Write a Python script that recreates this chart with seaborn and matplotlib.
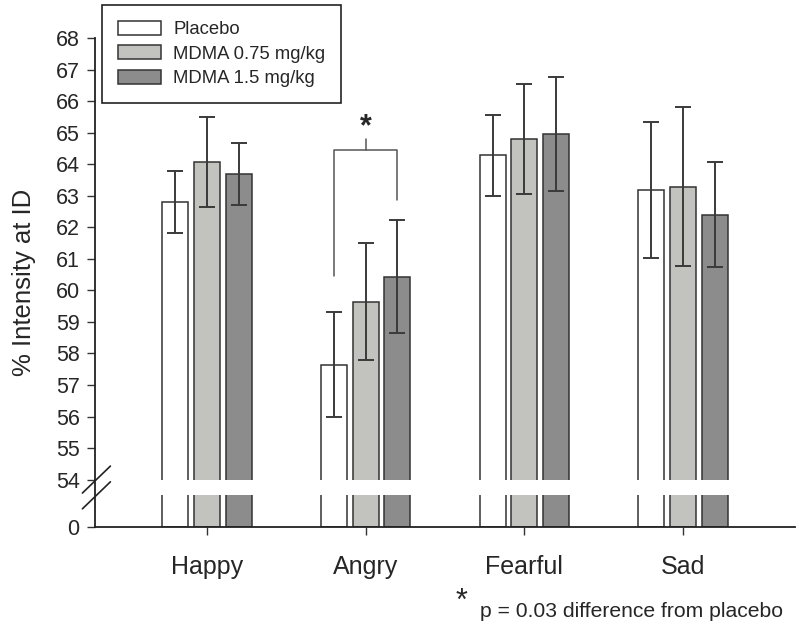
import numpy as np
import pandas as pd
import matplotlib
matplotlib.use("Agg")
import matplotlib.pyplot as plt
import seaborn as sns

# ---- data ----
emotions = ["Happy", "Angry", "Fearful", "Sad"]
groups = ["Placebo", "MDMA 0.75 mg/kg", "MDMA 1.5 mg/kg"]
placebo_mean = [62.80, 57.65, 64.30, 63.19]
mdma075_mean = [64.08, 59.62, 64.80, 63.27]
mdma15_mean = [63.70, 60.43, 64.95, 62.39]
placebo_lo = [61.82, 56.00, 63.00, 61.04]
placebo_hi = [63.77, 59.30, 65.55, 65.34]
mdma075_lo = [62.65, 57.78, 63.07, 60.77]
mdma075_hi = [65.50, 61.50, 66.55, 65.82]
mdma15_lo = [62.70, 58.65, 63.16, 60.73]
mdma15_hi = [64.68, 62.22, 66.75, 64.07]
y_ticks = [0, 54, 55, 56, 57, 58, 59, 60, 61, 62, 63, 64, 65, 66, 67, 68]
colors = ["#ffffff", "#c2c2be", "#8c8c8c"]
# significance bracket (Angry: placebo vs 1.5 mg/kg)
bracket_left_bottom = 60.45
bracket_right_bottom = 62.87
bracket_top = 64.45
bracket_tick_top = 64.8
star_level = 64.7

means = [placebo_mean, mdma075_mean, mdma15_mean]
los = [placebo_lo, mdma075_lo, mdma15_lo]
his = [placebo_hi, mdma075_hi, mdma15_hi]

df = pd.DataFrame({
    "emotion": np.repeat([emotions], 3, axis=0).ravel(),
    "group": np.repeat(groups, len(emotions)),
    "value": np.concatenate(means),
})

BREAK = 54.0
LOW_SPAN = 1.5


def fwd(y):
    y = np.asarray(y, dtype=float)
    return np.where(y < BREAK, y / BREAK * LOW_SPAN, y - BREAK + LOW_SPAN)


def inv(p):
    p = np.asarray(p, dtype=float)
    return np.where(p < LOW_SPAN, p / LOW_SPAN * BREAK, p - LOW_SPAN + BREAK)


sns.set_style("ticks")
plt.rcParams["font.family"] = ["Liberation Sans", "DejaVu Sans"]

fig = plt.figure(figsize=(8.0, 6.28), dpi=100)
ax = fig.add_axes([95 / 800, 1 - 527 / 628, 700 / 800, 489 / 628])
ax.set_yscale("function", functions=(fwd, inv))

sns.barplot(data=df, x="emotion", y="value", hue="group", order=emotions,
            hue_order=groups, palette=colors, edgecolor="#333333",
            linewidth=1.1, width=0.6, gap=0.18, errorbar=None, ax=ax,
            legend=True, zorder=1)

bar_containers = list(ax.containers)

# error bars
for k, cont in enumerate(bar_containers):
    xs = [b.get_x() + b.get_width() / 2 for b in cont]
    m = np.array(means[k])
    lo = m - np.array(los[k])
    hi = np.array(his[k]) - m
    ax.errorbar(xs, m, yerr=[lo, hi], fmt="none", ecolor="#3a3a3a",
                elinewidth=1.4, capsize=6, capthick=1.4, zorder=4)

# white break band
ax.axhspan(float(inv(1.0)), BREAK, color="white", zorder=3, lw=0)

ax.set_ylim(0, 68)
ax.set_xlim(-0.705, 3.705)
ax.set_yticks(y_ticks)
ax.set_yticklabels([str(t) for t in y_ticks])
ax.tick_params(axis="y", labelsize=15.5, length=6, width=1, color="#333333", pad=5)
ax.tick_params(axis="x", labelsize=18, length=6, width=1, color="#333333", pad=14)
for side in ["top", "right"]:
    ax.spines[side].set_visible(False)
for side in ["left", "bottom"]:
    ax.spines[side].set_linewidth(1.3)
    ax.spines[side].set_color("#222222")
    ax.spines[side].set_zorder(5)
ax.set_xlabel("")
ax.set_ylabel("% Intensity at ID", fontsize=18.5, labelpad=14)

# break slashes on y axis
for yc in (0.097, 0.0648):
    ax.plot([-0.018, 0.022], [yc - 0.0276, yc + 0.0276], transform=ax.transAxes,
            color="#222222", lw=1.2, clip_on=False, zorder=6)

# significance bracket
c0 = bar_containers[0][1]
c2 = bar_containers[2][1]
xl = c0.get_x() + c0.get_width() / 2
xr = c2.get_x() + c2.get_width() / 2
xm = (xl + xr) / 2
ax.plot([xl, xl, xr, xr], [bracket_left_bottom, bracket_top, bracket_top, bracket_right_bottom],
        color="#555555", lw=1.1, zorder=4)
ax.plot([xm, xm], [bracket_top, bracket_tick_top], color="#555555", lw=1.1, zorder=4)
ax.text(xm, star_level, "*", ha="center", va="bottom", fontsize=22, fontweight="bold")

# legend
handles, labels = ax.get_legend_handles_labels()
if ax.legend_ is not None:
    ax.legend_.remove()
leg = fig.legend(handles, labels, loc="upper left",
                 bbox_to_anchor=(102 / 800, 1 - 5 / 628), frameon=True,
                 fancybox=False, framealpha=1, edgecolor="#222222",
                 fontsize=13.3, handlelength=2.35, handleheight=0.8,
                 labelspacing=0.38, borderpad=0.85, handletextpad=0.65,
                 borderaxespad=0)
leg.get_frame().set_linewidth(1.2)

# footnote
fig.text(461 / 800, 1 - 602 / 628, "*", ha="center", va="center", fontsize=22)
fig.text(480 / 800, 1 - 617 / 628, "p = 0.03 difference from placebo",
         ha="left", va="baseline", fontsize=15.2)

fig.savefig("out.png", dpi=100)
